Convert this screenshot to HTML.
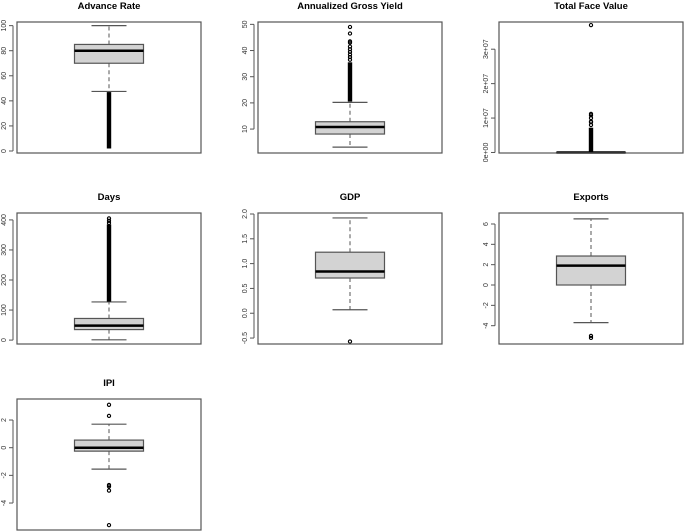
<!DOCTYPE html>
<html><head><meta charset="utf-8"><style>
html,body{margin:0;padding:0;background:#fff;}
svg{display:block;font-family:"Liberation Sans",sans-serif;}
</style></head><body>
<svg id="chart" width="685" height="531" viewBox="0 0 685 531"></svg>
<script>
// ---- data (one small array per panel) ----
const titles = ["Advance Rate","Annualized Gross Yield","Total Face Value","Days","GDP","Exports","IPI"];
// [lowWhisker, Q1, median, Q3, highWhisker]
const statsAdvance = [47.5, 70, 80, 85, 100];
const statsYield = [3.1, 8.1, 10.8, 12.8, 20.2];
const statsFace = [0, 0, 0, 0, 0];
const statsDays = [1, 35, 48, 72, 127];
const statsGDP = [0.07, 0.71, 0.84, 1.23, 1.92];
const statsExports = [-3.7, 0, 1.9, 2.85, 6.5];
const statsIPI = [-1.55, -0.25, 0.0, 0.55, 1.7];
// dense outlier ranges [from, to]
const denseAdvance = [2, 47];
const denseYield = [20.5, 35.5];
const denseFace = [0, 7.2e6];
const denseDays = [128, 385];
// sparse outliers
const outAdvance = [];
const outYield = [36.5, 37.5, 38.5, 39.5, 40.5, 41.5, 43, 43.5, 46.5, 49];
const outFace = [8e6, 8.8e6, 9e6, 1.0e7, 1.08e7, 1.12e7, 3.7e7];
const outDays = [390, 397, 405];
const outGDP = [-0.57];
const outExports = [-5.0, -5.2];
const outIPI = [3.1, 2.3, -2.7, -2.8, -3.1, -5.6];
// axis ticks
const ticksAdvance = [0, 20, 40, 60, 80, 100];
const ticksYield = [10, 20, 30, 40, 50];
const ticksFace = [0, 1e7, 2e7, 3e7];
const tickLabelsFace = ["0e+00","1e+07","2e+07","3e+07"];
const ticksDays = [0, 100, 200, 300, 400];
const ticksGDP = [-0.5, 0, 0.5, 1, 1.5, 2];
const tickLabelsGDP = ["-0.5","0.0","0.5","1.0","1.5","2.0"];
const ticksExports = [-4, -2, 0, 2, 4, 6];
const ticksIPI = [-4, -2, 0, 2];
// y domains (value at plot-box top / bottom)
const domAdvance = [-1.6, 102.9];
const domYield = [0.86, 50.9];
const domFace = [-1.5e5, 3.79e7];
const domDays = [-13, 423];
const domGDP = [-0.62, 2.02];
const domExports = [-5.8, 7.08];
const domIPI = [-5.95, 3.52];

const panels = [
 {s:statsAdvance,d:denseAdvance,o:outAdvance,t:ticksAdvance,tl:null,dom:domAdvance},
 {s:statsYield,d:denseYield,o:outYield,t:ticksYield,tl:null,dom:domYield},
 {s:statsFace,d:denseFace,o:outFace,t:ticksFace,tl:tickLabelsFace,dom:domFace},
 {s:statsDays,d:denseDays,o:outDays,t:ticksDays,tl:null,dom:domDays},
 {s:statsGDP,d:null,o:outGDP,t:ticksGDP,tl:tickLabelsGDP,dom:domGDP},
 {s:statsExports,d:null,o:outExports,t:ticksExports,tl:null,dom:domExports},
 {s:statsIPI,d:null,o:outIPI,t:ticksIPI,tl:null,dom:domIPI}
];
const colX = [17, 258, 499], boxW = 184;
const rowY = [22, 213, 399], boxH = 131;
const NS = "http://www.w3.org/2000/svg";
const svg = document.getElementById("chart");
function mk(tag, attrs, parent){const e=document.createElementNS(NS,tag);for(const k in attrs)e.setAttribute(k,attrs[k]);(parent||svg).appendChild(e);return e;}

panels.forEach((p,i)=>{
  const x0 = colX[i%3], y0 = rowY[Math.floor(i/3)];
  const slug = titles[i].toLowerCase().replace(/ /g,'-');
  const g = mk("g",{});
  
  
  const y = v => y0 + (p.dom[1]-v)/(p.dom[1]-p.dom[0])*boxH;
  const cx = x0 + boxW/2;
  // title
  const tt = mk("text",{x:cx,y:y0-13,'text-anchor':'middle','font-size':'9.5','font-weight':'bold',fill:'#000'},g);
  tt.textContent = titles[i];
  
  
  // y axis
  const tmin=p.t[0], tmax=p.t[p.t.length-1];
  const ax = mk("line",{x1:x0-4,x2:x0-4,y1:y(tmin),y2:y(tmax),stroke:'#555','stroke-width':1},g);
  
  
  p.t.forEach((tv,j)=>{
    mk("line",{x1:x0-8,x2:x0-4,y1:y(tv),y2:y(tv),stroke:'#555','stroke-width':1},g);
    const lab = mk("text",{x:0,y:0,'text-anchor':'middle','font-size':'7',fill:'#333',
      transform:`translate(${x0-11},${y(tv)}) rotate(-90)`},g);
    lab.textContent = p.tl ? p.tl[j] : String(tv);
    
    
  });
  const s = p.s, hw = 34.5, cw = 17.5;
  // whiskers
  mk("line",{x1:cx,x2:cx,y1:y(s[3]),y2:y(s[4]),stroke:'#555','stroke-dasharray':'4,3','stroke-width':1},g);
  mk("line",{x1:cx,x2:cx,y1:y(s[1]),y2:y(s[0]),stroke:'#555','stroke-dasharray':'4,3','stroke-width':1},g);
  mk("line",{x1:cx-cw,x2:cx+cw,y1:y(s[4]),y2:y(s[4]),stroke:'#555','stroke-width':1.2},g);
  mk("line",{x1:cx-cw,x2:cx+cw,y1:y(s[0]),y2:y(s[0]),stroke:'#555','stroke-width':1.2},g);
  // box
  const bx = mk("rect",{x:cx-hw,y:y(s[3]),width:hw*2,height:Math.max(0.5,y(s[1])-y(s[3])),fill:'#d3d3d3',stroke:'#555','stroke-width':1.2},g);
  
  
  mk("line",{x1:cx-hw,x2:cx+hw,y1:y(s[2]),y2:y(s[2]),stroke:'#000','stroke-width':2.5},g);
  // dense outliers
  if(p.d){
    const dr = mk("rect",{x:cx-2.2,y:y(p.d[1]),width:4.4,height:y(p.d[0])-y(p.d[1]),fill:'#000'},g);
    
    
  }
  p.o.forEach(v=>{
    const c = mk("circle",{cx:cx,cy:y(v),r:1.6,fill:'none',stroke:'#000','stroke-width':1.1},g);
    
    
  });
  // frame
  const fr = mk("rect",{x:x0,y:y0,width:boxW,height:boxH,fill:'none',stroke:'#555','stroke-width':1.2},g);
  
  
});
</script>
</body></html>
